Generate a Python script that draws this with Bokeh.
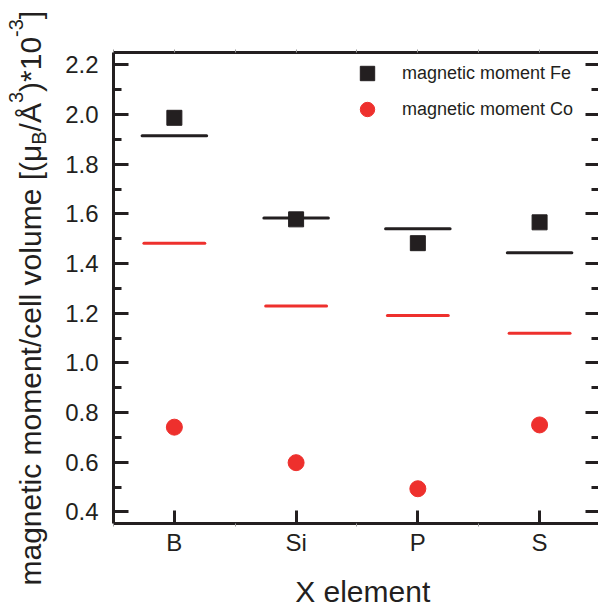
from math import pi
import numpy as np
from bokeh.plotting import figure
from bokeh.layouts import row, column
from bokeh.models import (Range1d, LinearAxis, FixedTicker, Legend,
                          LegendItem, ColumnDataSource)
from bokeh.core.properties import value
from bokeh.embed import file_html
from bokeh.resources import INLINE

# ---------------- data ----------------
elements = ["B", "Si", "P", "S"]
fe_moment = [1.987, 1.578, 1.482, 1.566]      # black squares
co_moment = [0.741, 0.598, 0.493, 0.750]      # red circles
fe_level = [1.915, 1.583, 1.540, 1.443]       # black horizontal bars
co_level = [1.482, 1.229, 1.191, 1.119]       # red horizontal bars
y_ticks = [0.4, 0.6, 0.8, 1.0, 1.2, 1.4, 1.6, 1.8, 2.0, 2.2]

DARK = "#231F20"
RED = "#EE302D"
FONT = "Liberation Sans"

xpos = np.arange(1, len(elements) + 1)
src = ColumnDataSource(dict(
    x=xpos, fe=fe_moment, co=co_moment, fe_level=fe_level, co_level=co_level,
    fe_x0=xpos - 0.265, fe_x1=xpos + 0.265,
    co_x0=xpos - 0.25, co_x1=xpos + 0.25,
))

# ---------------- main plot ----------------
p = figure(width=543, height=575, output_backend="svg", toolbar_location=None,
           x_range=Range1d(0.5, 4.484), y_range=Range1d(0.353, 2.25),
           min_border_left=58, min_border_right=0, min_border_top=52,
           min_border_bottom=52)
p.outline_line_color = None
p.xgrid.visible = False
p.ygrid.visible = False

half_steps = list(np.arange(0.5, len(elements) + 1, 1.0))
y_minor = list(np.round(np.array(y_ticks[:-1]) + 0.1, 2)) + [0.3]

# bottom axis
xa = p.xaxis[0]
xa.ticker = FixedTicker(ticks=list(xpos), minor_ticks=half_steps)
xa.major_label_overrides = {int(i): e for i, e in zip(xpos, elements)}
xa.axis_line_width = 3
xa.axis_line_color = DARK
xa.major_tick_in = 13
xa.major_tick_out = 0
xa.major_tick_line_width = 3
xa.major_tick_line_color = DARK
xa.minor_tick_in = 0
xa.minor_tick_out = 3
xa.minor_tick_line_color = "#9A9A9A"
xa.minor_tick_line_width = 1
xa.major_label_text_font = FONT
xa.major_label_text_font_size = "24px"
xa.major_label_text_color = DARK
xa.major_label_standoff = 2

# left axis
ya = p.yaxis[0]
ya.ticker = FixedTicker(ticks=y_ticks, minor_ticks=y_minor)
ya.major_label_overrides = {t: f"{t:.1f}" for t in y_ticks}
ya.axis_line_width = 3
ya.axis_line_color = DARK
ya.major_tick_in = 15
ya.major_tick_out = 0
ya.major_tick_line_width = 3
ya.major_tick_line_color = DARK
ya.minor_tick_in = 8
ya.minor_tick_out = 0
ya.minor_tick_line_width = 3
ya.minor_tick_line_color = DARK
ya.major_label_text_font = FONT
ya.major_label_text_font_size = "24px"
ya.major_label_text_color = DARK
ya.major_label_standoff = 15

# top axis (frame line with faint outward ticks, no labels)
top_ticks = sorted(half_steps + list(xpos.astype(float)))
top = LinearAxis(ticker=FixedTicker(ticks=top_ticks, minor_ticks=[]))
top.major_label_overrides = {t: "" for t in top_ticks}
top.axis_line_width = 3
top.axis_line_color = DARK
top.major_tick_in = 0
top.major_tick_out = 3
top.major_tick_line_color = "#9A9A9A"
top.major_tick_line_width = 1
top.major_label_standoff = 0
p.add_layout(top, "above")

# right axis (only inward ticks; its spine lies outside the picture)
right = LinearAxis(ticker=FixedTicker(ticks=y_ticks, minor_ticks=y_minor))
right.major_label_overrides = {t: "" for t in y_ticks}
right.axis_line_color = None
right.major_tick_in = 13
right.major_tick_out = 0
right.major_tick_line_width = 3
right.major_tick_line_color = DARK
right.minor_tick_in = 7
right.minor_tick_out = 0
right.minor_tick_line_width = 3
right.minor_tick_line_color = DARK
right.major_label_standoff = 0
p.add_layout(right, "right")

# glyphs
p.segment(x0="fe_x0", x1="fe_x1", y0="fe_level", y1="fe_level", source=src,
          line_color=DARK, line_width=3, line_cap="round")
p.segment(x0="co_x0", x1="co_x1", y0="co_level", y1="co_level", source=src,
          line_color=RED, line_width=3, line_cap="round")
r_fe = p.scatter("x", "fe", source=src, marker="square", size=15,
                 fill_color=DARK, line_color=DARK)
r_co = p.scatter("x", "co", source=src, marker="circle", size=16,
                 fill_color=RED, line_color=RED)

legend = Legend(items=[LegendItem(label="magnetic moment Fe", renderers=[r_fe]),
                       LegendItem(label="magnetic moment Co", renderers=[r_co])],
                location="top_right", margin=3, glyph_width=36, glyph_height=36,
                label_height=36, label_width=193, spacing=0, padding=0,
                label_standoff=17, border_line_color=None,
                background_fill_alpha=0, label_text_font=FONT,
                label_text_font_size="18px", label_text_color=DARK)
p.add_layout(legend)

# ---------------- y title (own narrow panel, pixel coordinates) ----------------
ylab = figure(width=55, height=607, output_backend="svg", toolbar_location=None,
              x_range=Range1d(0, 55), y_range=Range1d(0, 607),
              x_axis_location=None, y_axis_location=None, min_border=0)
ylab.outline_line_color = None
ylab.xgrid.visible = False
ylab.ygrid.visible = False

# Liberation Sans (Arial-metric) advance widths, per em
W = {'a': .556, 'b': .556, 'c': .5, 'd': .556, 'e': .556, 'f': .278, 'g': .556,
     'h': .556, 'i': .222, 'l': .222, 'm': .833, 'n': .556, 'o': .556, 'r': .333,
     't': .278, 'u': .556, 'v': .5, ' ': .278, '/': .278, '[': .278, ']': .278,
     '(': .333, ')': .333, '*': .389, '1': .556, '0': .556, '-': .333, '3': .556,
     'μ': .576, 'Å': .667, 'B': .667}
pieces = [("magnetic moment/cell volume [(μ", 30, 0),
          ("B", 20, 5),
          ("/Å", 30, 0),
          ("3", 20, -18),
          (")*10", 30, 0),
          ("-3", 20, -18),
          ("]", 30, 0)]
base_x, start_y = 40, 22
adv = 0.0
for txt, fs, shift in pieces:
    ylab.text(x=[base_x + shift - 0.35 * fs], y=[start_y + adv], text=[txt],
              angle=pi / 2, text_align="left", text_baseline="alphabetic",
              text_font=value(FONT), text_font_size=value(f"{fs}px"),
              text_color=DARK)
    adv += sum(W.get(c, .556) for c in txt) * fs

# ---------------- x title (own strip under the plot) ----------------
xlab = figure(width=543, height=32, output_backend="svg", toolbar_location=None,
              x_range=Range1d(0, 543), y_range=Range1d(0, 32),
              x_axis_location=None, y_axis_location=None, min_border=0)
xlab.outline_line_color = None
xlab.xgrid.visible = False
xlab.ygrid.visible = False
xlab.text(x=[279], y=[16.5], text=["X element"], text_align="center",
          text_baseline="alphabetic", text_font=value(FONT),
          text_font_size=value("30px"), text_color=DARK)

layout = row(ylab, column(p, xlab, spacing=0), spacing=0)
open("out.html", "w").write(file_html(layout, INLINE))
